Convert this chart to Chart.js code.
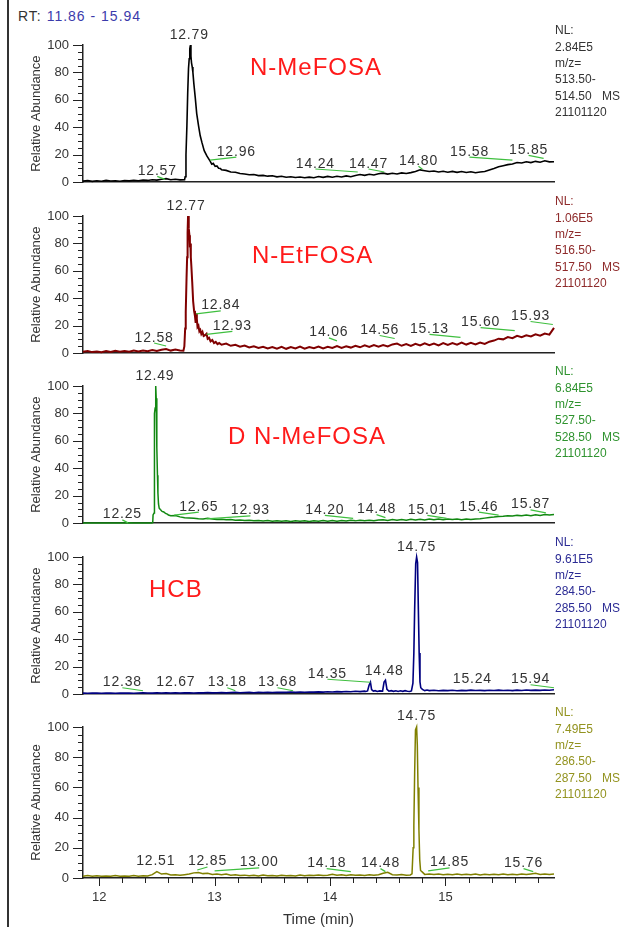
<!DOCTYPE html>
<html>
<head>
<meta charset="utf-8">
<title>SIM chromatograms</title>
<script src="https://cdn.jsdelivr.net/npm/chart.js@4.4.1/dist/chart.umd.min.js"></script>
<style>
  body { margin: 0; background: #fff; }
  #wrap { position: relative; width: 625px; height: 927px; overflow: hidden;
          font-family: "Liberation Sans", Arial, sans-serif; }
  #wrap canvas { position: absolute; left: 0; }
  #frame { position: absolute; left: 7px; top: 0; width: 2px; height: 927px; background: #333; }
  #rt { position: absolute; left: 18px; top: 8px; font-size: 14px; line-height: 16px;
        letter-spacing: 1px; color: #333; white-space: pre; }
  #rt span { color: #3b3bab; }
</style>
</head>
<body>
<div id="wrap">
  <div id="frame"></div>
  <div id="rt">RT: <span>11.86 - 15.94</span></div>
</div>
<script>
// retention time grid (min) shared by the baseline arrays below
const rtGrid = [
  11.86, 11.90, 11.94, 11.98, 12.02, 12.06, 12.10, 12.14, 12.18, 12.22,
  12.26, 12.30, 12.34, 12.38, 12.42, 12.46, 12.50, 12.54, 12.58, 12.62,
  12.66, 12.70, 12.74, 12.78, 12.82, 12.86, 12.90, 12.94, 12.98, 13.02,
  13.06, 13.10, 13.14, 13.18, 13.22, 13.26, 13.30, 13.34, 13.38, 13.42,
  13.46, 13.50, 13.54, 13.58, 13.62, 13.66, 13.70, 13.74, 13.78, 13.82,
  13.86, 13.90, 13.94, 13.98, 14.02, 14.06, 14.10, 14.14, 14.18, 14.22,
  14.26, 14.30, 14.34, 14.38, 14.42, 14.46, 14.50, 14.54, 14.58, 14.62,
  14.66, 14.70, 14.74, 14.78, 14.82, 14.86, 14.90, 14.94, 14.98, 15.02,
  15.06, 15.10, 15.14, 15.18, 15.22, 15.26, 15.30, 15.34, 15.38, 15.42,
  15.46, 15.50, 15.54, 15.58, 15.62, 15.66, 15.70, 15.74, 15.78, 15.82,
  15.86, 15.90, 15.94
];

// relative abundance (%) on rtGrid; null where the peak arrays take over
const meFosaBase = [
  0.8, 1.2, 0.6, 1.0, 0.7, 1.3, 0.9, 1.1, 0.7, 1.2,
  1.0, 1.4, 1.1, 1.6, 1.3, 1.8, 1.5, 2.2, 2.6, 1.8,
  2.1, 1.7, null, null, null, null, null, null, null, null,
  9.0, 8.6, 7.4, 7.2, 6.3, 6.0, 5.4, 5.6, 4.8, 5.0,
  4.4, 4.7, 3.9, 4.3, 3.6, 4.0, 3.4, 3.8, 3.2, 3.7,
  3.3, 4.1, 3.5, 4.2, 3.6, 4.3, 3.8, 4.6, 4.0, 4.9,
  5.6, 5.0, 5.8, 5.3, 6.1, 6.6, 5.9, 6.5, 6.0, 6.8,
  6.3, 7.0, 7.8, 9.0, 8.4, 7.8, 8.2, 7.4, 8.0, 7.3,
  7.9, 7.2, 7.8, 7.1, 7.6, 6.9, 7.4, 7.8, 8.9, 10.0,
  11.2, 12.0, 12.8, 13.3, 14.4, 14.0, 14.9, 14.3, 15.2, 14.6,
  15.6, 14.8, 14.9
];
const meFosaPeak = [
  [12.74, 1.8], [12.745, 4], [12.752, 20], [12.76, 41], [12.767, 65], [12.774, 83],
  [12.78, 90], [12.785, 97], [12.79, 100], [12.795, 92], [12.80, 87], [12.806, 84],
  [12.812, 80], [12.82, 72], [12.832, 62], [12.845, 50], [12.861, 41], [12.875, 34],
  [12.89, 29], [12.91, 23], [12.934, 19], [12.96, 15.5], [12.975, 13.2], [12.988, 13.8],
  [13.005, 11.5], [13.02, 11.8], [13.035, 10.2], [13.05, 10.0]
];
// [peak RT, label centre RT, label baseline %]
const meFosaLabels = [
  [12.57, 12.503, 5.3], [12.79, 12.78, 104.7], [12.96, 13.188, 19.3], [14.24, 13.873, 10.7],
  [14.47, 14.333, 10.7], [14.80, 14.766, 12.7], [15.58, 15.208, 19.3], [15.85, 15.72, 20.7]
];

const etFosaBase = [
  1.0, 1.6, 0.8, 1.3, 0.7, 1.5, 0.9, 1.8, 1.1, 1.6,
  1.0, 1.9, 1.2, 2.0, 1.4, 2.3, 1.6, 2.5, 3.1, 1.9,
  2.6, 2.0, null, null, null, null, null, null, null, null,
  6.2, 7.0, 5.4, 6.1, 4.8, 5.6, 4.2, 5.0, 3.8, 4.7,
  3.5, 4.5, 3.3, 4.6, 3.2, 4.4, 3.4, 4.8, 3.3, 4.5,
  3.6, 4.9, 3.5, 4.7, 3.9, 5.2, 3.8, 5.0, 4.1, 5.4,
  4.3, 5.7, 4.5, 5.9, 4.8, 6.0, 5.0, 6.4, 7.0, 5.4,
  6.6, 5.3, 6.9, 5.6, 7.2, 5.8, 7.0, 5.7, 7.3, 6.0,
  7.4, 6.2, 7.8, 6.3, 7.5, 6.4, 7.8, 6.8, 8.4, 9.2,
  10.6, 10.1, 11.8, 11.0, 12.7, 11.6, 13.0, 12.2, 13.8, 12.7,
  14.3, 13.5, 18.5
];
const etFosaPeak = [
  [12.73, 1.8], [12.738, 5], [12.745, 18], [12.75, 30], [12.757, 55], [12.762, 70],
  [12.766, 88], [12.77, 100], [12.774, 96], [12.778, 91], [12.782, 86], [12.786, 77],
  [12.79, 80], [12.794, 70], [12.799, 63], [12.806, 52], [12.814, 38], [12.822, 31],
  [12.83, 27], [12.836, 22], [12.84, 29], [12.846, 25], [12.852, 19], [12.86, 20],
  [12.868, 16], [12.876, 17], [12.885, 14], [12.895, 15.5], [12.905, 12.5], [12.915, 13],
  [12.93, 14.2], [12.94, 10.5], [12.952, 11.2], [12.965, 8.6], [12.98, 9.6], [12.995, 7.4],
  [13.01, 8.2], [13.025, 6.6], [13.04, 7.4]
];
const etFosaLabels = [
  [12.58, 12.476, 8.5], [12.77, 12.752, 104.7], [12.84, 13.053, 32], [12.93, 13.154, 17],
  [14.06, 13.99, 12.3], [14.56, 14.43, 14], [15.13, 14.861, 14.8], [15.60, 15.304, 19.7],
  [15.93, 15.737, 24.2]
];

const dMeFosaBase = [
  0.2, 0.1, 0.2, 0.1, 0.2, 0.1, 0.2, 0.2, 0.1, 0.2,
  0.3, 0.2, 0.1, 0.2, 0.2, null, null, null, null, 5.4,
  5.6, 4.6, 4.0, 3.8, 3.6, 3.2, 3.1, 3.6, 3.0, 2.7,
  2.9, 2.5, 2.7, 2.2, 2.4, 2.0, 2.2, 1.8, 2.0, 1.6,
  1.9, 1.5, 1.8, 1.4, 1.7, 1.3, 1.8, 1.4, 1.7, 1.3,
  1.8, 1.4, 1.9, 1.5, 1.9, 1.5, 2.0, 1.6, 2.1, 1.7,
  2.2, 1.8, 2.2, 1.8, 2.3, 2.5, 2.0, 2.6, 2.1, 2.7,
  2.2, 2.8, 2.3, 2.9, 2.4, 3.0, 2.5, 3.0, 2.6, 3.1,
  2.7, 3.0, 2.6, 3.1, 2.7, 3.0, 3.2, 3.7, 4.2, 4.5,
  4.9, 5.0, 5.4, 5.2, 5.7, 5.4, 5.9, 5.5, 6.1, 5.7,
  6.4, 5.9, 6.3
];
const dMeFosaPeak = [
  [12.455, 0.2], [12.464, 0.4], [12.467, 6], [12.476, 7.5], [12.479, 80], [12.485, 84],
  [12.49, 100], [12.494, 91], [12.498, 88], [12.501, 55], [12.505, 35], [12.509, 22],
  [12.514, 14], [12.52, 11], [12.53, 10], [12.545, 8.6], [12.56, 8.2], [12.575, 7.1],
  [12.59, 6.6], [12.60, 6.0]
];
const dMeFosaLabels = [
  [12.25, 12.201, 3.5], [12.49, 12.483, 104.3], [12.65, 12.863, 9.1], [12.93, 13.31, 6.4],
  [14.20, 13.955, 6.8], [14.48, 14.403, 7.3], [15.01, 14.843, 6.8], [15.46, 15.289, 9.1],
  [15.87, 15.737, 10.8]
];

const hcbBase = [
  0.8, 0.7, 0.9, 0.8, 0.7, 0.9, 0.8, 0.7, 0.9, 0.8,
  0.8, 0.7, 0.9, 1.1, 0.9, 0.8, 1.0, 0.9, 1.0, 0.9,
  1.1, 0.9, 1.0, 1.1, 0.9, 1.1, 1.0, 1.2, 1.0, 1.1,
  1.2, 1.0, 1.2, 1.4, 1.1, 1.2, 1.3, 1.1, 1.3, 1.2,
  1.4, 1.2, 1.3, 1.4, 1.3, 1.6, 1.3, 1.5, 1.4, 1.6,
  1.5, 1.7, 1.5, 1.8, 1.6, 1.9, 1.7, 2.0, 1.8, 2.1,
  1.9, 2.2, null, null, null, null, null, null, null, null,
  null, null, null, null, null, 2.6, 2.9, 2.5, 2.8, 2.6,
  2.9, 2.5, 2.8, 2.6, 3.0, 2.7, 2.8, 2.6, 2.9, 2.7,
  3.0, 2.7, 2.9, 2.6, 3.0, 2.7, 3.1, 2.8, 3.0, 2.8,
  3.1, 2.9, 3.2
];
const hcbPeak = [
  [14.31, 2.0], [14.325, 2.4], [14.338, 6.5], [14.35, 8.7], [14.36, 3.4], [14.375, 2.2],
  [14.39, 2.6], [14.41, 2.0], [14.43, 2.4], [14.455, 2.3], [14.468, 8.8], [14.48, 10.2],
  [14.493, 3.5], [14.51, 2.2], [14.53, 2.6], [14.55, 2.1], [14.57, 2.5], [14.59, 2.0],
  [14.61, 2.5], [14.63, 2.1], [14.65, 2.6], [14.67, 2.2], [14.69, 2.0], [14.705, 2.4],
  [14.718, 8], [14.726, 30], [14.733, 62], [14.742, 95], [14.75, 100], [14.758, 96],
  [14.765, 62], [14.772, 30], [14.779, 9], [14.786, 4.7], [14.80, 3.5], [14.82, 2.6],
  [14.84, 3.0]
];
const hcbLabels = [
  [12.38, 12.201, 5.8], [12.67, 12.664, 5.8], [13.18, 13.11, 5.8], [13.68, 13.545, 5.8],
  [14.35, 13.977, 12], [14.48, 14.469, 14.2], [14.75, 14.749, 104.7], [15.24, 15.233, 8],
  [15.94, 15.737, 8]
];

const hcbIsoBase = [
  1.2, 1.6, 1.1, 1.5, 1.2, 1.3, 1.1, 1.7, 1.2, 1.4,
  1.1, 1.6, 1.2, 1.5, 1.3, 2.2, 4.2, 2.6, 2.9, 2.0,
  2.1, 1.8, 2.2, 2.6, 3.4, 3.7, 2.9, 3.1, 2.4, 2.7,
  2.2, 2.6, 1.9, 2.1, 1.6, 1.9, 1.5, 1.8, 1.4, 1.9,
  1.5, 1.7, 1.4, 1.8, 1.5, 1.7, 1.4, 1.9, 1.5, 1.8,
  1.6, 2.0, 1.6, 1.9, 2.4, 1.8, 2.1, 1.7, 2.2, 1.8,
  2.0, 1.7, 2.1, 1.8, 2.2, 3.2, 3.8, 2.2, 2.0, 2.3,
  1.9, null, null, null, 2.4, 2.7, 2.3, 2.6, 2.1, 2.5,
  2.2, 2.6, 2.1, 2.5, 2.2, 2.6, 2.0, 2.4, 2.1, 2.5,
  2.2, 2.6, 2.1, 2.5, 2.2, 2.6, 2.3, 2.7, 3.1, 2.4,
  2.7, 2.3, 2.6
];
const hcbIsoPeak = [
  [14.695, 2.0], [14.71, 2.8], [14.72, 20], [14.726, 35], [14.733, 70], [14.74, 98],
  [14.75, 100], [14.756, 88], [14.762, 60], [14.77, 32], [14.777, 12], [14.784, 5],
  [14.80, 3.9]
];
const hcbIsoLabels = [
  [12.51, 12.49, 8.3], [12.85, 12.938, 8.3], [13.00, 13.386, 7.7], [14.18, 13.971, 7.2],
  [14.48, 14.437, 7.2], [14.75, 14.749, 104.7], [14.85, 15.035, 7.7], [15.76, 15.676, 7.2]
];

// header block printed to the right of each trace
const compoundNames = ['N-MeFOSA', 'N-EtFOSA', 'D N-MeFOSA', 'HCB', ''];
const normLevels = ['2.84E5', '1.06E5', '6.84E5', '9.61E5', '7.49E5'];
const massRanges = [['513.50', '514.50'], ['516.50', '517.50'], ['527.50', '528.50'],
                    ['284.50', '285.50'], ['286.50', '287.50']];
const rawFile = '21101120';
const timeTicks = [12, 13, 14, 15];

// layout
const RT_MIN = 11.86, RT_MAX = 15.94;
const PLOT_LEFT = 83, PLOT_RIGHT = 554, PLOT_H = 151;
const panelTops = [45, 216, 386, 557, 727];
const FONT = '"Liberation Sans", Arial, sans-serif';

const panels = [
  { base: meFosaBase, peak: meFosaPeak, labels: meFosaLabels, color: '#000000', width: 1.6,
    infoColor: '#333333', nameX: 250, nameDy: 23 },
  { base: etFosaBase, peak: etFosaPeak, labels: etFosaLabels, color: '#800000', width: 2.0,
    infoColor: '#8e2a2a', nameX: 252, nameDy: 40 },
  { base: dMeFosaBase, peak: dMeFosaPeak, labels: dMeFosaLabels, color: '#118811', width: 1.5,
    infoColor: '#2f932f', nameX: 228, nameDy: 51 },
  { base: hcbBase, peak: hcbPeak, labels: hcbLabels, color: '#000080', width: 1.6,
    infoColor: '#2b2b94', nameX: 149, nameDy: 33 },
  { base: hcbIsoBase, peak: hcbIsoPeak, labels: hcbIsoLabels, color: '#808000', width: 1.5,
    infoColor: '#939320', nameX: 0, nameDy: 0 }
];

Chart.defaults.font.family = FONT;
Chart.defaults.color = '#333';

// baseline points outside the peak window plus the detailed peak points
function buildTrace(base, peak) {
  const pts = [];
  rtGrid.forEach((t, i) => {
    if (base[i] !== null) pts.push({ x: t, y: base[i] });
  });
  peak.forEach(([t, v]) => pts.push({ x: t, y: v }));
  return pts.sort((a, b) => a.x - b.x);
}

// tick marks, peak labels with green leaders, compound name and header text
function decorations(p, idx, last) {
  return {
    id: 'decor' + idx,
    afterDraw(chart) {
      const { ctx, chartArea: a, scales: { x, y } } = chart;
      ctx.save();

      ctx.strokeStyle = '#222';
      ctx.lineWidth = 1;
      ctx.beginPath();
      for (let v = 0; v <= 100; v += 5) {
        const py = Math.round(y.getPixelForValue(v)) + 0.5;
        const len = v % 20 === 0 ? 10 : 5;
        ctx.moveTo(a.left - len, py);
        ctx.lineTo(a.left, py);
      }
      if (last) {
        for (let i = 0; i <= 19; i++) {
          const v = 12 + i * 0.2;
          const px = Math.round(x.getPixelForValue(v)) + 0.5;
          const len = Math.abs(v - Math.round(v)) < 0.01 ? 8 : 5;
          ctx.moveTo(px, a.bottom);
          ctx.lineTo(px, a.bottom + len);
        }
      }
      ctx.stroke();

      ctx.font = '14px ' + FONT;
      ctx.letterSpacing = '0.8px';
      ctx.textAlign = 'center';
      ctx.textBaseline = 'alphabetic';
      p.labels.forEach(([rt, at, level]) => {
        const lx = x.getPixelForValue(at);
        const ly = y.getPixelForValue(level);
        const px = x.getPixelForValue(rt);
        if (Math.abs(px - lx) > 3) {
          ctx.strokeStyle = '#3fbf3f';
          ctx.lineWidth = 1.2;
          ctx.beginPath();
          ctx.moveTo(lx, ly + 1.5);
          ctx.lineTo(px, ly + 4.5);
          ctx.stroke();
        }
        ctx.fillStyle = '#333';
        ctx.fillText(rt.toFixed(2), lx, ly);
      });

      if (compoundNames[idx]) {
        ctx.font = '24px ' + FONT;
        ctx.letterSpacing = '1px';
        ctx.fillStyle = '#ff1a1a';
        ctx.textAlign = 'left';
        ctx.textBaseline = 'middle';
        ctx.fillText(compoundNames[idx], p.nameX, a.top + p.nameDy);
      }

      ctx.font = '12px ' + FONT;
      ctx.letterSpacing = '0px';
      ctx.fillStyle = p.infoColor;
      ctx.textAlign = 'left';
      ctx.textBaseline = 'middle';
      const [lo, hi] = massRanges[idx];
      const lines = ['NL:', normLevels[idx], 'm/z=', lo + '-', hi, rawFile];
      lines.forEach((s, i) => {
        ctx.fillText(s, a.right + 1, a.top - 14 + i * 16.3);
      });
      ctx.fillText('MS', a.right + 48, a.top - 14 + 4 * 16.3);

      ctx.restore();
    }
  };
}

const wrap = document.getElementById('wrap');

panels.forEach((p, idx) => {
  const last = idx === panels.length - 1;
  const padTop = 40;
  const xAxisH = last ? 49 : 0;
  const padBottom = last ? 0 : 8;
  const canvas = document.createElement('canvas');
  canvas.width = 625;
  canvas.height = padTop + PLOT_H + xAxisH + padBottom;
  canvas.style.top = (panelTops[idx] - padTop) + 'px';
  wrap.appendChild(canvas);

  new Chart(canvas, {
    type: 'line',
    data: {
      datasets: [{
        data: buildTrace(p.base, p.peak),
        borderColor: p.color,
        borderWidth: p.width,
        pointRadius: 0,
        tension: 0,
        fill: false,
        clip: false
      }]
    },
    options: {
      responsive: false,
      animation: false,
      events: [],
      layout: {
        padding: { top: padTop, left: PLOT_LEFT - 60, right: 625 - PLOT_RIGHT, bottom: padBottom }
      },
      plugins: { legend: { display: false }, tooltip: { enabled: false } },
      scales: {
        x: {
          type: 'linear',
          min: RT_MIN,
          max: RT_MAX,
          grid: { display: false, drawTicks: false },
          border: { display: true, color: '#222', width: 1.5 },
          ticks: {
            display: last,
            padding: 12,
            autoSkip: false,
            maxRotation: 0,
            font: { size: 13 }
          },
          title: {
            display: last,
            text: 'Time (min)',
            font: { size: 15, lineHeight: 1 },
            padding: { top: 0, bottom: 0 }
          },
          afterBuildTicks: scale => { scale.ticks = timeTicks.map(v => ({ value: v })); },
          afterFit: scale => { scale.height = xAxisH; }
        },
        y: {
          min: 0,
          max: 100,
          grid: { display: false, drawTicks: false },
          border: { display: true, color: '#222', width: 1.5 },
          ticks: { stepSize: 20, padding: 14, font: { size: 13 } },
          title: {
            display: true,
            text: 'Relative Abundance',
            font: { size: 13 },
            padding: { top: 6, bottom: 0 }
          },
          afterFit: scale => { scale.width = 60; }
        }
      }
    },
    plugins: [decorations(p, idx, last)]
  });
});
</script>
</body>
</html>
